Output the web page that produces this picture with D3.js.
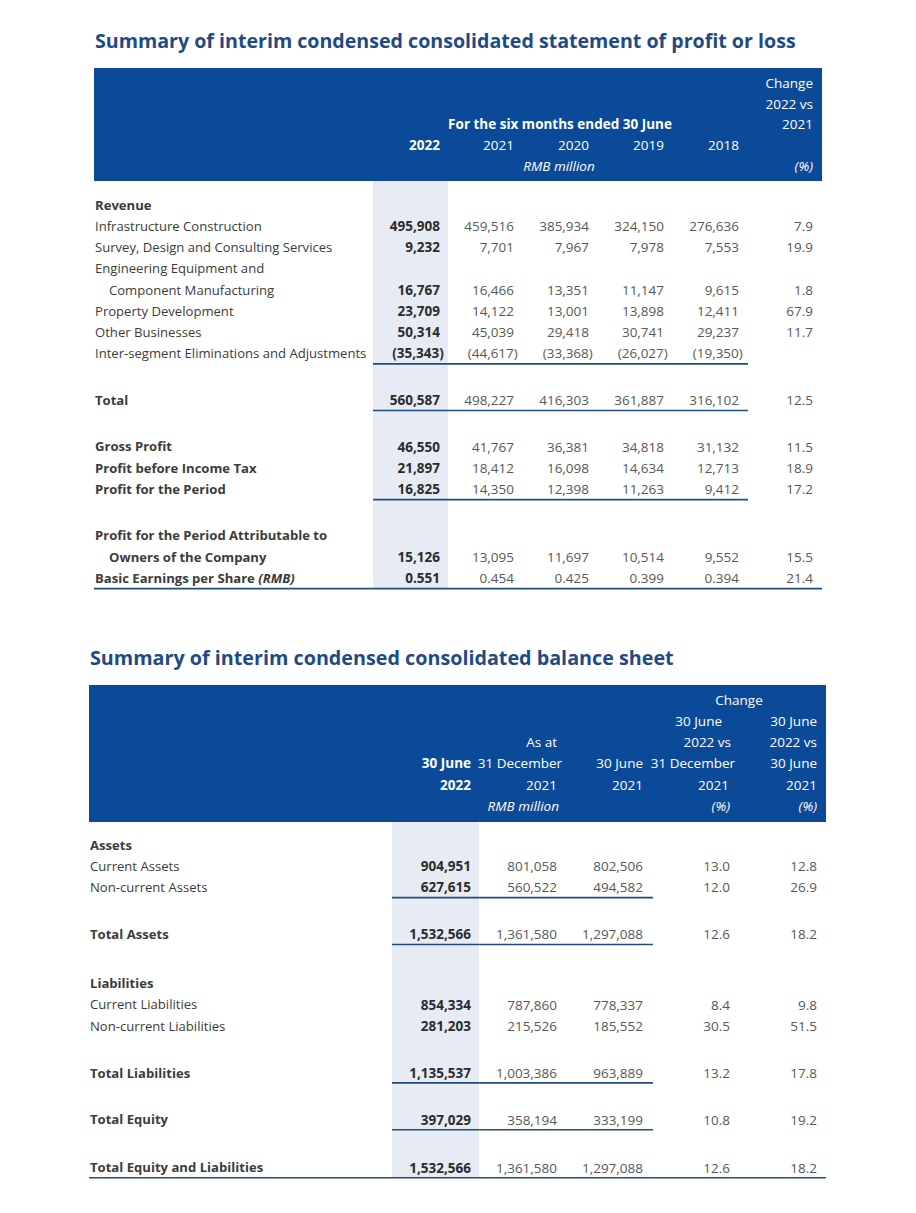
<!DOCTYPE html>
<html><head><meta charset="utf-8">
<script src="https://cdn.jsdelivr.net/npm/d3@7"></script>
<style>
body{margin:0;background:#fff}
svg{display:block}
text{font-family:"Open Sans",sans-serif}
</style>
</head><body>
<svg id="c" width="916" height="1213"></svg>
<script>
// ---------------- DATA ----------------
const plTitle = "Summary of interim condensed consolidated statement of profit or loss";
const plYears = ["2022", "2021", "2020", "2019", "2018"];
const plItems = [
  "Infrastructure Construction",
  "Survey, Design and Consulting Services",
  ["Engineering Equipment and", "Component Manufacturing"],
  "Property Development",
  "Other Businesses",
  "Inter-segment Eliminations and Adjustments",
  "Total",
  "Gross Profit",
  "Profit before Income Tax",
  "Profit for the Period",
  ["Profit for the Period Attributable to", "Owners of the Company"],
  "Basic Earnings per Share"
];
const pl2022 = [495908, 9232, 16767, 23709, 50314, -35343, 560587, 46550, 21897, 16825, 15126, 0.551];
const pl2021 = [459516, 7701, 16466, 14122, 45039, -44617, 498227, 41767, 18412, 14350, 13095, 0.454];
const pl2020 = [385934, 7967, 13351, 13001, 29418, -33368, 416303, 36381, 16098, 12398, 11697, 0.425];
const pl2019 = [324150, 7978, 11147, 13898, 30741, -26027, 361887, 34818, 14634, 11263, 10514, 0.399];
const pl2018 = [276636, 7553, 9615, 12411, 29237, -19350, 316102, 31132, 12713, 9412, 9552, 0.394];
const plChange = [7.9, 19.9, 1.8, 67.9, 11.7, null, 12.5, 11.5, 18.9, 17.2, 15.5, 21.4];

const bsTitle = "Summary of interim condensed consolidated balance sheet";
const bsItems = ["Current Assets", "Non-current Assets", "Total Assets", "Current Liabilities",
  "Non-current Liabilities", "Total Liabilities", "Total Equity", "Total Equity and Liabilities"];
const bsJun2022 = [904951, 627615, 1532566, 854334, 281203, 1135537, 397029, 1532566];
const bsDec2021 = [801058, 560522, 1361580, 787860, 215526, 1003386, 358194, 1361580];
const bsJun2021 = [802506, 494582, 1297088, 778337, 185552, 963889, 333199, 1297088];
const bsChgDec = [13.0, 12.0, 12.6, 8.4, 30.5, 13.2, 10.8, 12.6];
const bsChgJun = [12.8, 26.9, 18.2, 9.8, 51.5, 17.8, 19.2, 18.2];

// ---------------- STYLE / LAYOUT ----------------
const FS_LABEL = 13.1, FS_NUM = 13.5, FS_HEAD = 13.5;
const C_LABEL = "#3b3b3b", C_NUM = "#585858", C_BOLD = "#2c2c2c",
      C_HEAD = "#0b4a99", C_HL = "#e6ebf4", C_LINE = "#1f4d7d", C_TITLE = "#1f4a86";

const svg = d3.select("#c");
const fInt = d3.format(","), fEps = d3.format(".3f"), fPct = d3.format(".1f");
function fmt(v) {
  if (v == null) return "";
  const a = Math.abs(v);
  const s = Number.isInteger(a) ? fInt(a) : fEps(a);
  return v < 0 ? "(" + s + ")" : s;
}

function txt(g, x, y, s, o = {}) {
  return g.append("text")
    .attr("x", x).attr("y", y).attr("dy", "0.36em")
    .attr("text-anchor", o.anchor || "start")
    .attr("font-size", o.size || FS_LABEL)
    .attr("font-weight", o.bold ? 700 : 400)
    .attr("font-style", o.italic ? "italic" : "normal")
    .attr("fill", o.fill || C_LABEL)
    .text(s);
}
function fitTitle(x, y, s, w, size) {
  const t = svg.append("text").attr("x", x).attr("y", y)
    .attr("font-size", size).attr("font-weight", 700).attr("fill", C_TITLE).text(s);
  const len = t.node().getComputedTextLength();
  t.attr("font-size", size * w / len);
  return t;
}

// ===== TABLE 1 =====
fitTitle(95, 48, plTitle, 701, 18);

const t1 = { left: 94, right: 822, top: 68, headBottom: 181, hlX0: 373, hlX1: 448, lineX1: 748 };
svg.append("rect").attr("x", t1.left).attr("y", t1.top)
  .attr("width", t1.right - t1.left).attr("height", t1.headBottom - t1.top).attr("fill", C_HEAD);

const plKeys = ["y2022", "y2021", "y2020", "y2019", "y2018", "chg"];
const plX = d3.scaleOrdinal(plKeys, [440, 514, 589, 664, 739, 813]);
const plSeries = [pl2022, pl2021, pl2020, pl2019, pl2018];
const h1Y = d3.scaleLinear([0, 4], [83, 166]);
const hg = svg.append("g");
const W = "#ffffff";
const H = { fill: W, size: FS_HEAD };
txt(hg, plX("chg"), h1Y(0), "Change", { ...H, anchor: "end" });
txt(hg, plX("chg"), h1Y(1), "2022 vs", { ...H, anchor: "end" });
txt(hg, plX("chg"), h1Y(2), "2021", { ...H, anchor: "end" });
txt(hg, plX("chg"), h1Y(4), "(%)", { ...H, anchor: "end", italic: true });
txt(hg, 560, h1Y(2), "For the six months ended 30 June", { ...H, anchor: "middle", bold: true });
plYears.forEach((yr, i) => txt(hg, plX(plKeys[i]), h1Y(3), yr, { ...H, anchor: "end", bold: i === 0 }));
txt(hg, 559, h1Y(4), "RMB million", { ...H, anchor: "middle", italic: true });

// body
const plSlots = [1, 2, 4, 5, 6, 7, 9.2, 11.4, 12.4, 13.4, 16.6, 17.6];
const plBold = [false, false, false, false, false, false, true, true, true, true, true, true];
const plLines = { 5: "part", 6: "part", 9: "part", 11: "full" };
const r1Y = d3.scaleLinear([0, 1], [205, 226.2]);

svg.append("rect").attr("x", t1.hlX0).attr("y", t1.headBottom)
  .attr("width", t1.hlX1 - t1.hlX0).attr("height", 588 - t1.headBottom).attr("fill", C_HL);

const b1 = svg.append("g");
txt(b1, 95, r1Y(0), "Revenue", { bold: true });
const PAREN = 3.8;
plItems.forEach((lab, i) => {
  const y = r1Y(plSlots[i]);
  if (Array.isArray(lab)) {
    txt(b1, 95, r1Y(plSlots[i] - 1), lab[0], { bold: plBold[i] });
    txt(b1, 109, y, lab[1], { bold: plBold[i] });
  } else if (i === 11) {
    const t = txt(b1, 95, y, lab + " ", { bold: true });
    t.append("tspan").attr("font-style", "italic").text("(RMB)");
  } else {
    txt(b1, 95, y, lab, { bold: plBold[i] });
  }
  plSeries.forEach((arr, k) => {
    const v = arr[i];
    txt(b1, plX(plKeys[k]) + (v < 0 ? PAREN : 0), y, fmt(v),
      { anchor: "end", size: FS_NUM, bold: k === 0, fill: k === 0 ? C_BOLD : C_NUM });
  });
  if (plChange[i] != null)
    txt(b1, plX("chg"), y, fPct(plChange[i]), { anchor: "end", size: FS_NUM, fill: C_NUM });
  if (plLines[i]) {
    const ly = y + 10.5;
    const x0 = plLines[i] === "full" ? t1.left : t1.hlX0;
    const x1v = plLines[i] === "full" ? t1.right : t1.lineX1;
    svg.append("line").attr("x1", x0).attr("x2", x1v).attr("y1", ly).attr("y2", ly)
      .attr("stroke", C_LINE).attr("stroke-width", 1.6);
  }
});

// ===== TABLE 2 =====
fitTitle(90, 665, bsTitle, 584, 19);
const t2 = { left: 89, right: 826, top: 685, headBottom: 822, hlX0: 392, hlX1: 479, lineX1: 653 };
svg.append("rect").attr("x", t2.left).attr("y", t2.top)
  .attr("width", t2.right - t2.left).attr("height", t2.headBottom - t2.top).attr("fill", C_HEAD);

const bsKeys = ["jun22", "dec21", "jun21", "chgDec", "chgJun"];
const bsX = d3.scaleOrdinal(bsKeys, [471, 557, 643, 730, 817]);
const bsSeries = [bsJun2022, bsDec2021, bsJun2021];
const h2Y = d3.scaleLinear([0, 5], [700, 806]);
const hg2 = svg.append("g");
const head2 = [
  { r: 0, x: 739, s: "Change", a: "middle" },
  { r: 1, x: 722, s: "30 June" }, { r: 2, x: 731, s: "2022 vs" }, { r: 3, x: 735, s: "31 December" },
  { r: 4, x: 729, s: "2021" }, { r: 5, x: 730, s: "(%)", it: true },
  { r: 1, x: 817, s: "30 June" }, { r: 2, x: 817, s: "2022 vs" }, { r: 3, x: 817, s: "30 June" },
  { r: 4, x: 817, s: "2021" }, { r: 5, x: 817, s: "(%)", it: true },
  { r: 3, x: 471, s: "30 June", b: true }, { r: 4, x: 471, s: "2022", b: true },
  { r: 2, x: 557, s: "As at" }, { r: 3, x: 562, s: "31 December" }, { r: 4, x: 557, s: "2021" },
  { r: 5, x: 559, s: "RMB million", it: true },
  { r: 3, x: 643, s: "30 June" }, { r: 4, x: 643, s: "2021" }
];
head2.forEach(h => txt(hg2, h.x, h2Y(h.r), h.s, { anchor: h.a || "end", fill: W, size: FS_HEAD, bold: h.b, italic: h.it }));

svg.append("rect").attr("x", t2.hlX0).attr("y", t2.headBottom)
  .attr("width", t2.hlX1 - t2.hlX0).attr("height", 1178 - t2.headBottom).attr("fill", C_HL);

const bsSlots = [1, 2, 4.2, 7.5, 8.5, 10.7, 12.9, 15.15];
const bsBold = [false, false, true, false, false, true, true, true];
const bsLines = { 1: "part", 2: "part", 5: "part", 6: "part", 7: "full" };
const r2Y = d3.scaleLinear([0, 1], [845, 866.3]);
const b2 = svg.append("g");
txt(b2, 90, r2Y(0), "Assets", { bold: true });
txt(b2, 90, r2Y(6.5), "Liabilities", { bold: true });
bsItems.forEach((lab, i) => {
  const y = r2Y(bsSlots[i]);
  txt(b2, 90, y, lab, { bold: bsBold[i] });
  bsSeries.forEach((arr, k) => {
    txt(b2, bsX(bsKeys[k]), y, fmt(arr[i]), { anchor: "end", size: FS_NUM, bold: k === 0, fill: k === 0 ? C_BOLD : C_NUM });
  });
  txt(b2, bsX("chgDec"), y, fPct(bsChgDec[i]), { anchor: "end", size: FS_NUM, fill: C_NUM });
  txt(b2, bsX("chgJun"), y, fPct(bsChgJun[i]), { anchor: "end", size: FS_NUM, fill: C_NUM });
  if (bsLines[i]) {
    const ly = y + 10;
    const x0 = bsLines[i] === "full" ? t2.left : t2.hlX0;
    const x1v = bsLines[i] === "full" ? t2.right : t2.lineX1;
    svg.append("line").attr("x1", x0).attr("x2", x1v).attr("y1", ly).attr("y2", ly)
      .attr("stroke", C_LINE).attr("stroke-width", 1.6);
  }
});
</script>
</body></html>
